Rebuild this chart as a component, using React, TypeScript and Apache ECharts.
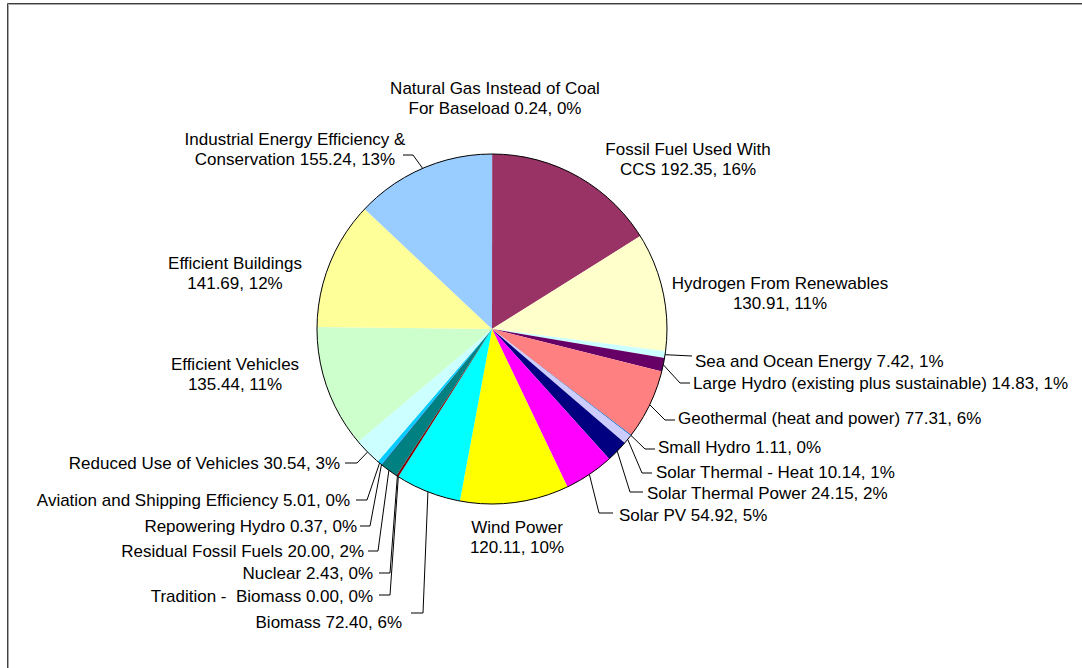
import React, { useEffect, useRef } from "react";
import * as echarts from "echarts";

// Category names (as listed in the legend-less pie, clockwise from 12 o'clock)
const categories: string[] = [
  "Natural Gas Instead of Coal For Baseload",
  "Fossil Fuel Used With CCS",
  "Hydrogen From Renewables",
  "Sea and Ocean Energy",
  "Large Hydro (existing plus sustainable)",
  "Geothermal (heat and power)",
  "Small Hydro",
  "Solar Thermal - Heat",
  "Solar Thermal Power",
  "Solar PV",
  "Wind Power",
  "Biomass",
  "Tradition -  Biomass",
  "Nuclear",
  "Residual Fossil Fuels",
  "Repowering Hydro",
  "Aviation and Shipping Efficiency",
  "Reduced Use of Vehicles",
  "Efficient Vehicles",
  "Efficient Buildings",
  "Industrial Energy Efficiency & Conservation",
];

// Label text as wrapped on the chart ("\n" marks a line break)
const labelTexts: string[] = [
  "Natural Gas Instead of Coal\nFor Baseload",
  "Fossil Fuel Used With\nCCS",
  "Hydrogen From Renewables\n",
  "Sea and Ocean Energy",
  "Large Hydro (existing plus sustainable)",
  "Geothermal (heat and power)",
  "Small Hydro",
  "Solar Thermal - Heat",
  "Solar Thermal Power",
  "Solar PV",
  "Wind Power\n",
  "Biomass",
  "Tradition -  Biomass",
  "Nuclear",
  "Residual Fossil Fuels",
  "Repowering Hydro",
  "Aviation and Shipping Efficiency",
  "Reduced Use of Vehicles",
  "Efficient Vehicles\n",
  "Efficient Buildings\n",
  "Industrial Energy Efficiency &\nConservation",
];

const values: number[] = [
  0.24, 192.35, 130.91, 7.42, 14.83, 77.31, 1.11, 10.14, 24.15, 54.92, 120.11,
  72.4, 0.0, 2.43, 20.0, 0.37, 5.01, 30.54, 135.44, 141.69, 155.24,
];

const colors: string[] = [
  "#9999FF", "#993366", "#FFFFCC", "#CCFFFF", "#660066", "#FF8080", "#0066CC",
  "#CCCCFF", "#000080", "#FF00FF", "#FFFF00", "#00FFFF", "#800080", "#800000",
  "#008080", "#0000FF", "#00CCFF", "#CCFFFF", "#CCFFCC", "#FFFF99", "#99CCFF",
];

// Label placement (layout only)
type Pos = { x: number; y: number; align: "left" | "right" | "center"; line?: number[][] };
const labelPositions: Pos[] = [
  { x: 495, y: 98, align: "center" },
  { x: 688, y: 159, align: "center" },
  { x: 780, y: 293, align: "center" },
  { x: 695, y: 361, align: "left", line: [[692, 356]] },
  { x: 693, y: 383, align: "left", line: [[680, 383], [690, 383]] },
  { x: 678, y: 418, align: "left", line: [[665, 420], [675, 420]] },
  { x: 658, y: 447, align: "left", line: [[645, 449], [655, 449]] },
  { x: 656, y: 472, align: "left", line: [[642, 473], [652, 473]] },
  { x: 647, y: 493, align: "left", line: [[630, 492], [643, 492]] },
  { x: 619, y: 515, align: "left", line: [[599, 513], [613, 513]] },
  { x: 517, y: 537, align: "center" },
  { x: 402, y: 622, align: "right", line: [[423, 613], [411, 613]] },
  { x: 373, y: 596, align: "right", line: [[390, 595], [379, 595]] },
  { x: 373, y: 573, align: "right", line: [[390, 573], [379, 573]] },
  { x: 364, y: 551, align: "right", line: [[378, 551], [368, 551]] },
  { x: 357, y: 526, align: "right", line: [[370, 526], [360, 526]] },
  { x: 350, y: 500, align: "right", line: [[367, 500], [356, 500]] },
  { x: 340, y: 463, align: "right", line: [[357, 463], [345, 463]] },
  { x: 235, y: 374, align: "center" },
  { x: 235, y: 273, align: "center" },
  { x: 295, y: 149, align: "center", line: [[413, 155], [403, 155]] },
];

const FONT = '"Liberation Sans", Arial, Helvetica, sans-serif';

export default function App() {
  const ref = useRef<HTMLDivElement>(null);

  useEffect(() => {
    const chart = echarts.init(ref.current!, null, { renderer: "svg" });
    const total = values.reduce((a, b) => a + b, 0);

    chart.setOption({
      animation: false,
      backgroundColor: "#ffffff",
      graphic: [
        {
          type: "rect",
          shape: { x: 7.5, y: 3.5, width: 1200, height: 800 },
          style: { fill: "none", stroke: "#404040", lineWidth: 1 },
          silent: true,
        },
        {
          type: "rect",
          shape: { x: 8.5, y: 4.5, width: 1200, height: 800 },
          style: { fill: "none", stroke: "#a8a8a8", lineWidth: 1 },
          silent: true,
        },
      ],
      series: [
        {
          type: "pie",
          center: [492, 329],
          radius: 175,
          startAngle: 90,
          clockwise: true,
          avoidLabelOverlap: false,
          minShowLabelAngle: 0,
          silent: true,
          emphasis: { disabled: true },
          itemStyle: { borderWidth: 0 },
          label: {
            show: true,
            position: "outside",
            color: "#000",
            fontFamily: FONT,
            fontSize: 17,
            lineHeight: 20,
            formatter: (p: any) => {
              const i = p.dataIndex;
              const t = labelTexts[i];
              const sep = t.endsWith("\n") ? "" : " ";
              const pct = Math.round((values[i] / total) * 100);
              return `${t}${sep}${values[i].toFixed(2)}, ${pct}%`;
            },
          },
          labelLine: {
            show: true,
            length: 10,
            length2: 10,
            smooth: false,
            lineStyle: { color: "#000", width: 1 },
          },
          labelLayout: (params: any) => {
            const pos = labelPositions[params.dataIndex];
            const out: any = {
              x: pos.x,
              y: pos.y,
              align: pos.align,
              verticalAlign: "middle",
            };
            if (pos.line && params.labelLinePoints && params.labelLinePoints[0]) {
              out.labelLinePoints = [params.labelLinePoints[0], ...pos.line];
            }
            return out;
          },
          data: categories.map((name, i) => ({
            name,
            value: values[i],
            itemStyle: { color: colors[i] },
            labelLine: labelPositions[i].line ? undefined : { show: false },
          })),
        },
        {
          type: "pie",
          center: [492, 329],
          radius: 175,
          silent: true,
          z: 5,
          emphasis: { disabled: true },
          label: { show: false },
          labelLine: { show: false },
          itemStyle: { color: "rgba(0,0,0,0)", borderColor: "#000", borderWidth: 1 },
          data: [{ name: "outline", value: 1 }],
        },
      ],
    });

    return () => chart.dispose();
  }, []);

  return (
    <div
      ref={ref}
      style={{ position: "absolute", left: 0, top: 0, width: 1082, height: 668, background: "#fff" }}
    />
  );
}
